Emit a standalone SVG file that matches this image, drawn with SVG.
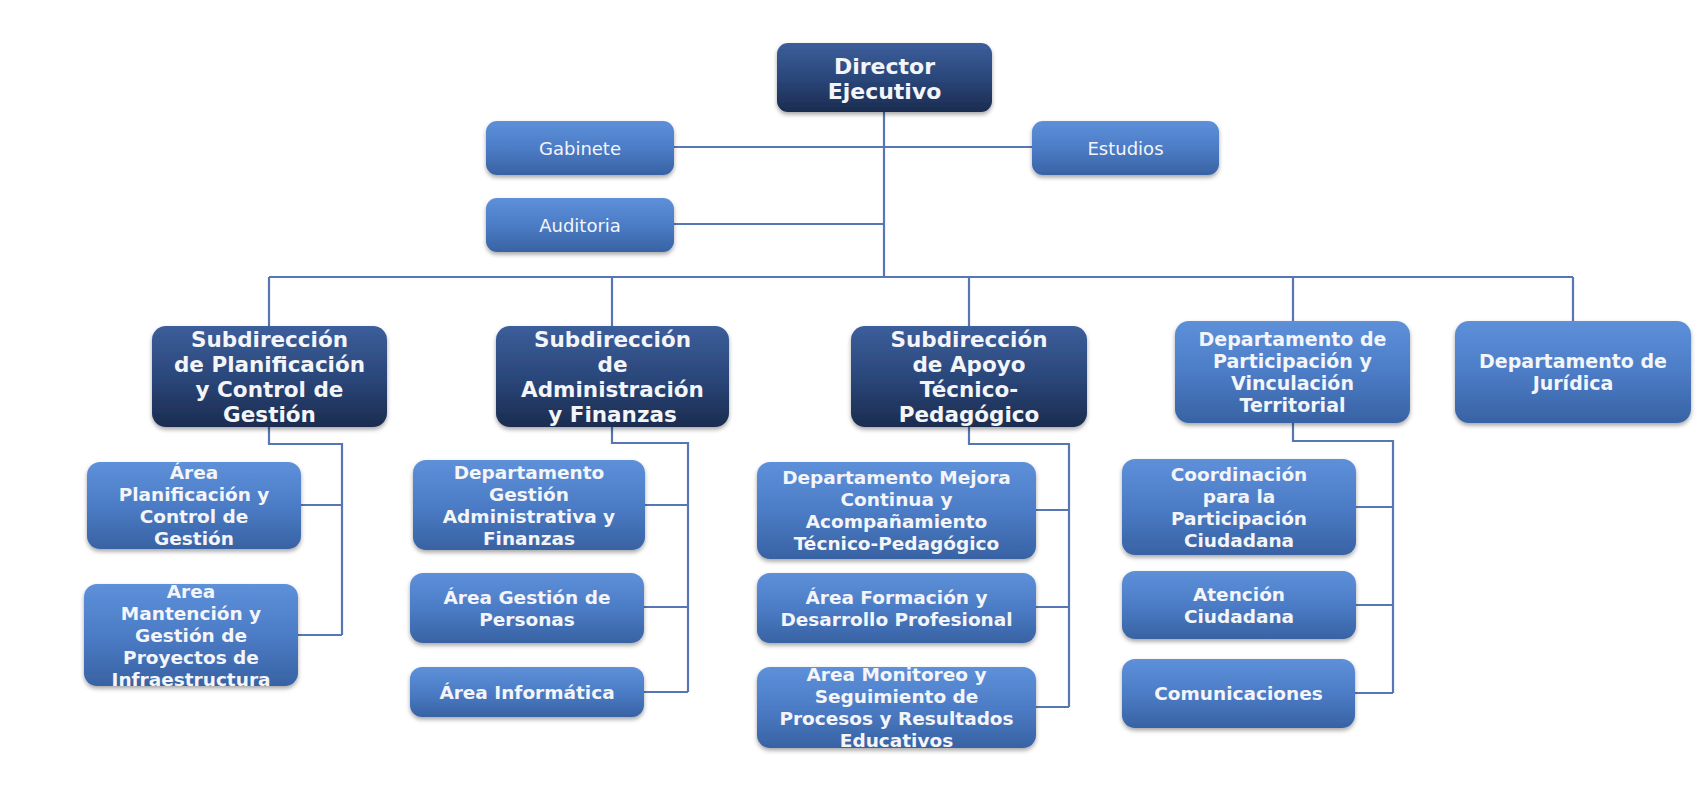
<svg xmlns="http://www.w3.org/2000/svg" width="1708" height="786" viewBox="0 0 1708 786">
<defs>
<linearGradient id="gDark" x1="0" y1="0" x2="0" y2="1">
<stop offset="0" stop-color="#3c5e9b"/>
<stop offset="0.5" stop-color="#2b477b"/>
<stop offset="1" stop-color="#1b2c4f"/>
</linearGradient>
<linearGradient id="gLight" x1="0" y1="0" x2="0" y2="1">
<stop offset="0" stop-color="#5e90da"/>
<stop offset="0.5" stop-color="#4c7cc6"/>
<stop offset="1" stop-color="#3862a3"/>
</linearGradient>
<filter id="sh" x="-10%" y="-10%" width="120%" height="130%">
<feDropShadow dx="0" dy="2.5" stdDeviation="2" flood-color="#000" flood-opacity="0.35"/>
</filter>
</defs>
<style>
.dark{fill:url(#gDark);filter:url(#sh)}
.light{fill:url(#gLight);filter:url(#sh)}
text{font-family:"DejaVu Sans","Liberation Sans",sans-serif;fill:#f3f5f9;text-anchor:middle}
.t1{font-size:22px;font-weight:bold}
.t2{font-size:21.5px;font-weight:bold}
.t3{font-size:19px;font-weight:bold}
.t4{font-size:18.5px;font-weight:bold}
.tr{font-size:18px}
.conn{fill:none;stroke:#5677b3;stroke-width:2.2}
</style>
<rect width="1708" height="786" fill="#ffffff"/>
<g id="connectors">
<path class="conn" d="M884,112 V277"/>
<path class="conn" d="M674,147 H1032"/>
<path class="conn" d="M674,224 H884"/>
<path class="conn" d="M269,277 H1573"/>
<path class="conn" d="M269,277 V326 M612,277 V326 M969,277 V326 M1293,277 V321 M1573,277 V321"/>
<path class="conn" d="M269,427 V444 H342 V635 M301,505 H342 M298,635 H342"/>
<path class="conn" d="M612,427 V443 H688 V692 M645,505 H688 M644,607 H688 M644,692 H688"/>
<path class="conn" d="M969,427 V444 H1069 V707 M1036,510 H1069 M1036,607 H1069 M1036,707 H1069"/>
<path class="conn" d="M1293,423 V441 H1393 V693 M1356,507 H1393 M1356,605 H1393 M1355,693 H1393"/>
</g>
<g id="director">
<rect class="dark" x="777" y="43" width="215" height="69" rx="11"/>
<text class="t1" x="884.5" y="74">Director<tspan x="884.5" dy="25">Ejecutivo</tspan></text>
</g>
<g id="gabinete">
<rect class="light" x="486" y="121" width="188" height="54" rx="11"/>
<text class="tr" x="580" y="154.5">Gabinete</text>
</g>
<g id="estudios">
<rect class="light" x="1032" y="121" width="187" height="54" rx="11"/>
<text class="tr" x="1125.5" y="154.5">Estudios</text>
</g>
<g id="auditoria">
<rect class="light" x="486" y="198" width="188" height="54" rx="11"/>
<text class="tr" x="580" y="231.5">Auditoria</text>
</g>
<g id="sub-planificacion">
<rect class="dark" x="152" y="326" width="235" height="101" rx="14"/>
<text class="t2" x="269.5" y="346.7">Subdirección<tspan x="269.5" dy="25">de Planificación</tspan><tspan x="269.5" dy="25">y Control de</tspan><tspan x="269.5" dy="25">Gestión</tspan></text>
</g>
<g id="sub-administracion">
<rect class="dark" x="496" y="326" width="233" height="101" rx="14"/>
<text class="t2" x="612.5" y="346.7">Subdirección<tspan x="612.5" dy="25">de</tspan><tspan x="612.5" dy="25">Administración</tspan><tspan x="612.5" dy="25">y Finanzas</tspan></text>
</g>
<g id="sub-apoyo">
<rect class="dark" x="851" y="326" width="236" height="101" rx="14"/>
<text class="t2" x="969" y="346.7">Subdirección<tspan x="969" dy="25">de Apoyo</tspan><tspan x="969" dy="25">Técnico-</tspan><tspan x="969" dy="25">Pedagógico</tspan></text>
</g>
<g id="dep-participacion">
<rect class="light" x="1175" y="321" width="235" height="102" rx="14"/>
<text class="t3" x="1292.5" y="345.8">Departamento de<tspan x="1292.5" dy="22">Participación y</tspan><tspan x="1292.5" dy="22">Vinculación</tspan><tspan x="1292.5" dy="22">Territorial</tspan></text>
</g>
<g id="dep-juridica">
<rect class="light" x="1455" y="321" width="236" height="102" rx="14"/>
<text class="t3" x="1573" y="367.8">Departamento de<tspan x="1573" dy="22">Jurídica</tspan></text>
</g>
<g id="area-planificacion">
<rect class="light" x="87" y="462" width="214" height="87" rx="13"/>
<text class="t4" x="194" y="479.2">Área<tspan x="194" dy="22">Planificación y</tspan><tspan x="194" dy="22">Control de</tspan><tspan x="194" dy="22">Gestión</tspan></text>
</g>
<g id="area-mantencion">
<rect class="light" x="84" y="584" width="214" height="102" rx="13"/>
<text class="t4" x="191" y="597.7">Área<tspan x="191" dy="22">Mantención y</tspan><tspan x="191" dy="22">Gestión de</tspan><tspan x="191" dy="22">Proyectos de</tspan><tspan x="191" dy="22">Infraestructura</tspan></text>
</g>
<g id="dep-gestion-adm">
<rect class="light" x="413" y="460" width="232" height="90" rx="13"/>
<text class="t4" x="529" y="478.7">Departamento<tspan x="529" dy="22">Gestión</tspan><tspan x="529" dy="22">Administrativa y</tspan><tspan x="529" dy="22">Finanzas</tspan></text>
</g>
<g id="area-personas">
<rect class="light" x="410" y="573" width="234" height="70" rx="13"/>
<text class="t4" x="527" y="603.7">Área Gestión de<tspan x="527" dy="22">Personas</tspan></text>
</g>
<g id="area-informatica">
<rect class="light" x="410" y="667" width="234" height="50" rx="12"/>
<text class="t4" x="527" y="698.7">Área Informática</text>
</g>
<g id="dep-mejora">
<rect class="light" x="757" y="462" width="279" height="97" rx="13"/>
<text class="t4" x="896.5" y="484.2">Departamento Mejora<tspan x="896.5" dy="22">Continua y</tspan><tspan x="896.5" dy="22">Acompañamiento</tspan><tspan x="896.5" dy="22">Técnico-Pedagógico</tspan></text>
</g>
<g id="area-formacion">
<rect class="light" x="757" y="573" width="279" height="70" rx="13"/>
<text class="t4" x="896.5" y="603.7">Área Formación y<tspan x="896.5" dy="22">Desarrollo Profesional</tspan></text>
</g>
<g id="area-monitoreo">
<rect class="light" x="757" y="667" width="279" height="81" rx="13"/>
<text class="t4" x="896.5" y="681.2">Área Monitoreo y<tspan x="896.5" dy="22">Seguimiento de</tspan><tspan x="896.5" dy="22">Procesos y Resultados</tspan><tspan x="896.5" dy="22">Educativos</tspan></text>
</g>
<g id="coordinacion">
<rect class="light" x="1122" y="459" width="234" height="96" rx="13"/>
<text class="t4" x="1239" y="480.7">Coordinación<tspan x="1239" dy="22">para la</tspan><tspan x="1239" dy="22">Participación</tspan><tspan x="1239" dy="22">Ciudadana</tspan></text>
</g>
<g id="atencion">
<rect class="light" x="1122" y="571" width="234" height="68" rx="13"/>
<text class="t4" x="1239" y="600.7">Atención<tspan x="1239" dy="22">Ciudadana</tspan></text>
</g>
<g id="comunicaciones">
<rect class="light" x="1122" y="659" width="233" height="69" rx="13"/>
<text class="t4" x="1238.5" y="700.2">Comunicaciones</text>
</g>
</svg>
